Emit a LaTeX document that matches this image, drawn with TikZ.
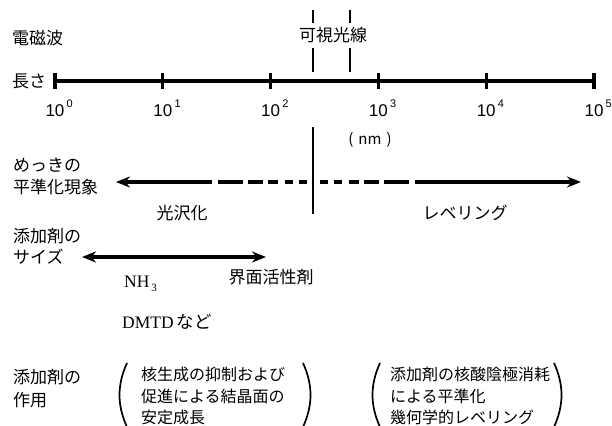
\documentclass[tikz,border=0pt]{standalone}
\usepackage{fontspec}
\setmainfont{Liberation Serif}
\newfontfamily\jp{Noto Sans CJK JP}
\newfontfamily\ar{Liberation Sans}
\usetikzlibrary{arrows.meta,calc}
\begin{document}
\begin{tikzpicture}[x=1pt,y=-1pt,
  lbl/.style={font=\jp\fontsize{17}{19}\selectfont, inner sep=0pt},
  lft/.style={lbl, anchor=west},
  num/.style={font=\ar\fontsize{17}{19}\selectfont, inner sep=0pt, anchor=base},
  supnum/.style={font=\ar\fontsize{11}{13}\selectfont, inner sep=0pt, anchor=base west},
  serif/.style={font=\fontsize{17.5}{20}\selectfont, inner sep=0pt},
  axisline/.style={line width=3.3pt},
  thinline/.style={line width=1.1pt},
  divline/.style={line width=1.6pt},
  bigarrow/.style={line width=3.3pt, -{Stealth[length=14pt,width=11pt]}},
  dbarrow/.style={line width=3.3pt, {Stealth[length=14pt,width=11pt]}-{Stealth[length=14pt,width=11pt]}},
  dashseg/.style={line width=3.3pt},
  paren/.style={line width=1.7pt},
  grp/.style={font=\jp\fontsize{16}{21.5}\selectfont, inner sep=0pt, anchor=north west, align=left}
]
\useasboundingbox (0,0) rectangle (612,425);

% left labels
\node[lft] (em) at (12,38) {電磁波};
\node[lft] (len) at (12,81) {長さ};
\node[lft] (mekki) at (13,165) {めっきの};
\node[lft] (heijun) at (13,187) {平準化現象};
\node[lft] (tenka1) at (13,236) {添加剤の};
\node[lft] (size) at (13,257) {サイズ};
\node[lft] (tenka2) at (13,377) {添加剤の};
\node[lft] (sayou) at (13,400) {作用};

% axis
\foreach \i in {0,...,5} {
  \coordinate (a\i) at (55+107.8*\i,81);
}
\draw[axisline] (a0) -- (a5);
\foreach \i in {0,...,5} {
  \draw[axisline] (a\i) ++(0,-8) -- ++(0,16);
  \node[num] (n\i) at ($(a\i)+(0,35)$) {10};
  \node[supnum] (s\i) at ($(a\i)+(11.5,26)$) {\i};
}

% visible light
\coordinate (v1a) at (313,10); \coordinate (v1b) at (313,23);
\coordinate (v1c) at (313,48); \coordinate (v1d) at (313,72);
\coordinate (v2a) at (350,10); \coordinate (v2b) at (350,23);
\coordinate (v2c) at (350,48); \coordinate (v2d) at (350,72);
\draw[thinline] (v1a) -- (v1b) (v1c) -- (v1d) (v2a) -- (v2b) (v2c) -- (v2d);
\node[lbl] (vis) at (333,35) {可視光線};

\node[font=\jp\fontsize{15}{17}\selectfont, inner sep=0pt] (nm) at (370,140) {(\,\,nm\,\,)};

% divider
\coordinate (d1) at (313,127); \coordinate (d2) at (313,214);
\draw[divline] (d1) -- (d2);

% leveling arrows
\coordinate (lstart) at (212,182); \coordinate (lend) at (116,182);
\draw[bigarrow] (lstart) -- (lend);
\foreach \p/\q in {218/243,248/263,268/278,285/293,299/307,320/328,334/342,349/359,364/379,384/409} {
  \draw[dashseg] (\p,182) -- (\q,182);
}
\coordinate (rstart) at (415,182); \coordinate (rend) at (581,182);
\draw[bigarrow] (rstart) -- (rend);

\node[lbl] (gloss) at (182,213) {光沢化};
\node[lbl] (level) at (465,213) {レベリング};

% size arrow
\coordinate (sz1) at (82,257); \coordinate (sz2) at (266,257);
\draw[dbarrow] (sz1) -- (sz2);
\node[serif, anchor=west] (nh3) at (124,284) {NH\hspace{2pt}\raisebox{-4pt}{\fontsize{11}{11}\selectfont 3}};
\node[lbl] (surf) at (271,277) {界面活性剤};
\node[serif, anchor=west] (dmtd) at (122,322) {DMTD\,{\jp など}};

% action groups
\node[grp] (g1) at (141,367) {核生成の抑制および\\促進による結晶面の\\安定成長};
\node[grp] (g2) at (390,367) {添加剤の核酸陰極消耗\\による平準化\\幾何学的レベリング};

\draw[paren] (127,363) .. controls (117,385) and (117,405) .. (127,427);
\draw[paren] (303,363) .. controls (313,385) and (313,405) .. (303,427);
\draw[paren] (380,363) .. controls (370,385) and (370,405) .. (380,427);
\draw[paren] (554,363) .. controls (564,385) and (564,405) .. (554,427);
\end{tikzpicture}
\end{document}
